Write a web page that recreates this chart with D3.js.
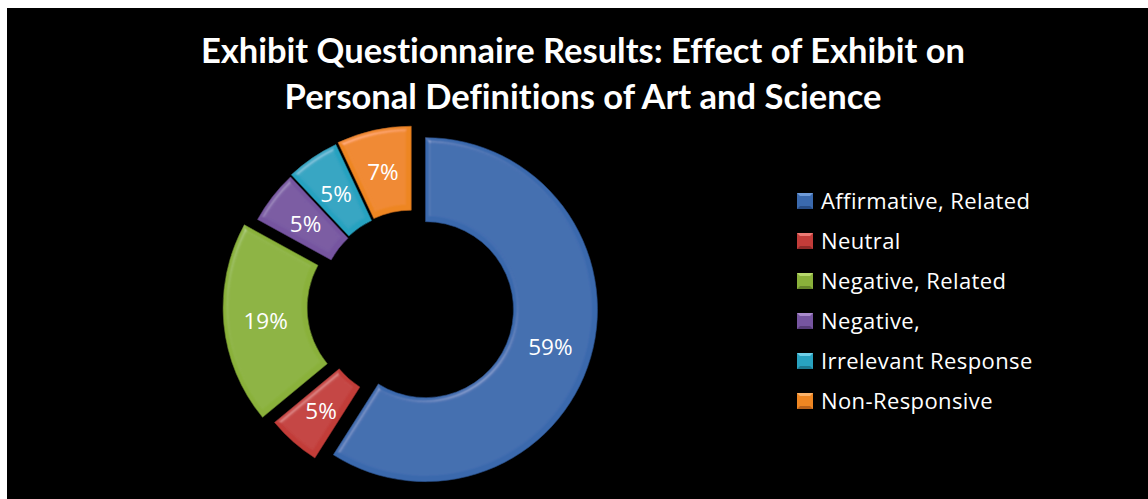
<!DOCTYPE html>
<html>
<head>
<meta charset="utf-8">
<script src="https://cdn.jsdelivr.net/npm/d3@7"></script>
<style>
  body { margin: 0; background: #ffffff; }
  svg { display: block; }
  text { font-variant-ligatures: none; }
</style>
</head>
<body>
<svg id="chart" width="1148" height="499"></svg>
<script>
// donnees
var categories = ["Affirmative, Related", "Neutral", "Negative, Related", "Negative,", "Irrelevant Response", "Non-Responsive"];
var valeurs = [59, 5, 19, 5, 5, 7];
var etiquettes = ["59%", "5%", "19%", "5%", "5%", "7%"];
var titre = ["Exhibit Questionnaire Results: Effect of Exhibit on", "Personal Definitions of Art and Science"];

// styles
var couleurs = ["#3a69ad", "#c23c39", "#8ab13a", "#7655a0", "#28a2c0", "#ee8622"];
var clairs   = ["#6f9bd8", "#ec7a74", "#b8d86c", "#a98bcc", "#6fd0e8", "#fbb36a"];
var sombres  = ["#274c85", "#8e2a28", "#66852a", "#563c78", "#1c7890", "#b9621a"];
var eclate = [13, 9, 18, 6, 7, 8]; // decalage de chaque part

var W = 1148, H = 499;
var cx = 413, cy = 306;
var rExt = 172, rInt = 88;
var police = "'Open Sans', sans-serif";

var svg = d3.select("#chart");

// fond noir
svg.append("rect").attr("x", 7).attr("y", 8).attr("width", W - 7).attr("height", H - 8).attr("fill", "#000000");

// filtre biseau
var defs = svg.append("defs");
var f = defs.append("filter").attr("id", "biseau").attr("x", "-10%").attr("y", "-10%").attr("width", "120%").attr("height", "120%");
f.append("feGaussianBlur").attr("in", "SourceAlpha").attr("stdDeviation", 2.5).attr("result", "flou");
var spec = f.append("feSpecularLighting").attr("in", "flou").attr("surfaceScale", 4)
  .attr("specularConstant", 0.5).attr("specularExponent", 22).attr("lighting-color", "#ffffff").attr("result", "spec");
spec.append("feDistantLight").attr("azimuth", 235).attr("elevation", 40);
f.append("feComposite").attr("in", "spec").attr("in2", "SourceAlpha").attr("operator", "in").attr("result", "specIn");
f.append("feComposite").attr("in", "SourceGraphic").attr("in2", "specIn").attr("operator", "arithmetic")
  .attr("k1", 0).attr("k2", 1).attr("k3", 0.3).attr("k4", 0);

// titre
svg.append("g").selectAll("text").data(titre).enter().append("text")
  .attr("x", 583).attr("y", function(d, i){ return 63 + i * 46; })
  .attr("text-anchor", "middle").attr("fill", "#ffffff")
  .attr("font-family", "Lato, sans-serif")
  .attr("font-size", 34.5).attr("font-weight", "bold")
  .text(function(d){ return d; });

// anneau
var pie = d3.pie().sort(null).value(function(d){ return d; });
var arc = d3.arc().innerRadius(rInt).outerRadius(rExt);
var arcs = pie(valeurs);

var anneau = svg.append("g").attr("transform", "translate(" + cx + "," + cy + ")");
var parts = anneau.selectAll("g.part").data(arcs).enter().append("g")
  .attr("class", "part")
  .attr("transform", function(d, i){
    var a = (d.startAngle + d.endAngle) / 2;
    return "translate(" + (Math.sin(a) * eclate[i]) + "," + (-Math.cos(a) * eclate[i]) + ")";
  });

parts.append("path")
  .attr("d", arc)
  .attr("fill", function(d, i){ return couleurs[i]; })
  .attr("stroke", function(d, i){ return sombres[i]; })
  .attr("stroke-width", 0.6)
  .attr("filter", "url(#biseau)");

parts.append("text")
  .attr("transform", function(d){ return "translate(" + arc.centroid(d) + ")"; })
  .attr("dy", "0.4em")
  .attr("text-anchor", "middle")
  .attr("fill", "#ffffff")
  .attr("font-family", police)
  .attr("font-size", 22.5)
  .text(function(d, i){ return etiquettes[i]; });

// legende
var leg = svg.append("g").attr("transform", "translate(797,193)");
var ligne = leg.selectAll("g").data(categories).enter().append("g")
  .attr("transform", function(d, i){ return "translate(0," + (i * 40) + ")"; });

var s = 16;
ligne.append("rect").attr("width", s).attr("height", s)
  .attr("fill", function(d, i){ return couleurs[i]; });
// pyramide du marqueur
ligne.append("path").attr("d", "M0,0L" + s + ",0L" + (s / 2) + "," + (s / 2) + "Z")
  .attr("fill", function(d, i){ return clairs[i]; });
ligne.append("path").attr("d", "M0," + s + "L" + s + "," + s + "L" + (s / 2) + "," + (s / 2) + "Z")
  .attr("fill", function(d, i){ return sombres[i]; });
ligne.append("rect").attr("x", 3).attr("y", 3).attr("width", s - 6).attr("height", s - 6)
  .attr("fill", function(d, i){ return couleurs[i]; });

ligne.append("text")
  .attr("x", 24).attr("y", s / 2).attr("dy", "0.36em")
  .attr("fill", "#ffffff").attr("font-family", police).attr("font-size", 22)
  .attr("letter-spacing", 0.4)
  .text(function(d){ return d; });
</script>
</body>
</html>
